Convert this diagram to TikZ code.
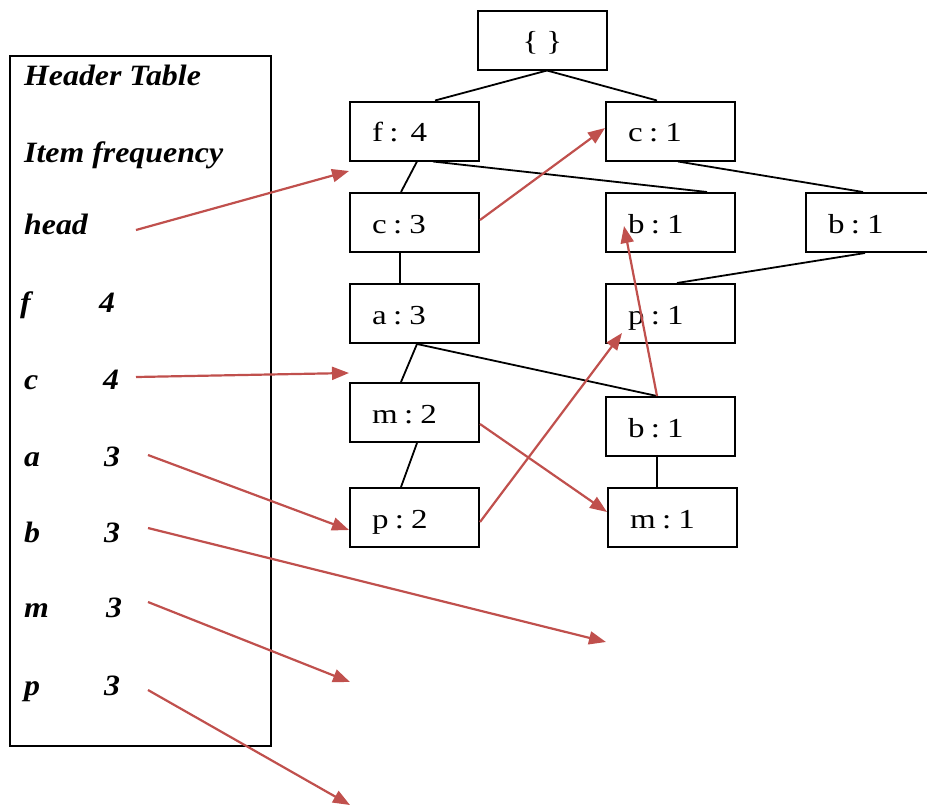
\documentclass[tikz,border=0pt]{standalone}
\usepackage{fontspec}
\setmainfont{Liberation Serif}
\newfontfamily\treefont[FakeStretch=1.2]{Liberation Serif}
\newfontfamily\hdrfont[FakeStretch=1.08]{Liberation Serif}
\newcommand\trlab[3][7pt]{#2\hspace{6.5pt}:\hspace{#1}#3}
\usetikzlibrary{arrows.meta,calc}
\definecolor{ptr}{HTML}{C0504D}
\begin{document}
\begin{tikzpicture}[x=1pt,y=-1pt,
  treebox/.style={draw,line width=2pt,minimum width=129pt,minimum height=59pt,
    inner xsep=22pt,text width=85pt,align=left,text height=24pt,text depth=3pt,
    font=\treefont\fontsize{27.5}{30}\selectfont},
  rootbox/.style={treebox,align=center},
  edge/.style={line width=1.8pt},
  ptrarrow/.style={draw=ptr,line width=2.2pt,-{Triangle[length=17pt,width=13pt]}},
  hdr/.style={anchor=base west,inner sep=0pt,font=\hdrfont\fontsize{29.5}{32}\selectfont\bfseries\itshape}]
\useasboundingbox (0,0) rectangle (927,807);
% header table
\node[draw,line width=2pt,minimum width=261pt,minimum height=690pt,inner sep=0pt] (ht) at (140.5,400.5) {};
\node[hdr] (t1) at (24,85) {Header Table};
\node[hdr] (t2) at (24,162) {Item frequency};
\node[hdr] (t3) at (24,234) {head};
\node[hdr] (lf) at (20,312) {f};  \node[hdr] (nf) at (99,312) {4};
\node[hdr] (lc) at (24,389) {c};  \node[hdr] (nc) at (103,389) {4};
\node[hdr] (la) at (24,466) {a};  \node[hdr] (na) at (104,466) {3};
\node[hdr] (lb) at (24,542) {b};  \node[hdr] (nb) at (104,542) {3};
\node[hdr] (lm) at (24,617) {m};  \node[hdr] (nm) at (106,617) {3};
\node[hdr] (lp) at (24,695) {p};  \node[hdr] (np) at (104,695) {3};
% tree
\node[rootbox] (root) at (542.5,40) {\{\hspace{8pt}\}};
\node[treebox] (f4) at (414.5,131) {\trlab[12pt]{f}{4}};
\node[treebox] (c1) at (670.5,131) {\trlab{c}{1}};
\node[treebox] (c3) at (414.5,222.5) {\trlab{c}{3}};
\node[treebox] (b1m) at (670.5,222.5) {\trlab{b}{1}};
\node[treebox] (b1r) at (870.5,222.5) {\trlab{b}{1}};
\node[treebox] (a3) at (414.5,313.5) {\trlab{a}{3}};
\node[treebox] (p1) at (670.5,313.5) {\trlab{p}{1}};
\node[treebox] (m2) at (414.5,412.5) {\trlab{m}{2}};
\node[treebox] (b1l) at (670.5,426.5) {\trlab{b}{1}};
\node[treebox] (p2) at (414.5,517.5) {\trlab{p}{2}};
\node[treebox] (m1) at (672.5,517.5) {\trlab{m}{1}};
% tree edges
\draw[edge] ([xshift=4.5pt]root.south) -- ([xshift=20.5pt]f4.north);
\draw[edge] ([xshift=4.5pt]root.south) -- ([xshift=-13.5pt]c1.north);
\draw[edge] ([xshift=2.5pt]f4.south) -- ([xshift=-13.5pt]c3.north);
\draw[edge] ([xshift=18.5pt]f4.south) -- ([xshift=36.5pt]b1m.north);
\draw[edge] ([xshift=7.5pt]c1.south) -- ([xshift=-7.5pt]b1r.north);
\draw[edge] ([xshift=-14.5pt]c3.south) -- ([xshift=-14.5pt]a3.north);
\draw[edge] ([xshift=-5.5pt]b1r.south) -- ([xshift=6.5pt]p1.north);
\draw[edge] ([xshift=2.5pt]a3.south) -- ([xshift=-13.5pt]m2.north);
\draw[edge] ([xshift=2.5pt]a3.south) -- ([xshift=-13.5pt]b1l.north);
\draw[edge] ([xshift=2.5pt]m2.south) -- ([xshift=-13.5pt]p2.north);
\draw[edge] ([xshift=-13.5pt]b1l.south) -- ([xshift=-15.5pt]m1.north);
% pointer coordinates
\coordinate (shead) at (136,230);
\coordinate (ehead) at (349,171);
\coordinate (sc) at (136,377);
\coordinate (ec) at (349,373);
\coordinate (sa) at (148,455);
\coordinate (sb) at (148,528);
\coordinate (eb) at (606,642);
\coordinate (sm) at (148,602);
\coordinate (em) at (350,682);
\coordinate (sp) at (148,690);
\coordinate (ep) at (350,805);
\coordinate (tb1m) at (624,226);
\coordinate (tp1) at (622,333);
% pointers
\draw[ptrarrow] (shead) -- (ehead);
\draw[ptrarrow] (sc) -- (ec);
\draw[ptrarrow] (sa) -- ([yshift=-12.5pt]p2.west);
\draw[ptrarrow] (sb) -- (eb);
\draw[ptrarrow] (sm) -- (em);
\draw[ptrarrow] (sp) -- (ep);
\draw[ptrarrow] ([yshift=2.5pt]c3.east) -- ([yshift=3pt]c1.west);
\draw[ptrarrow] ([xshift=-13.5pt]b1l.north) -- (tb1m);
\draw[ptrarrow] ([yshift=-4.5pt]p2.east) -- (tp1);
\draw[ptrarrow] ([yshift=-11.5pt]m2.east) -- ([yshift=5.5pt]m1.west);
\end{tikzpicture}
\end{document}
